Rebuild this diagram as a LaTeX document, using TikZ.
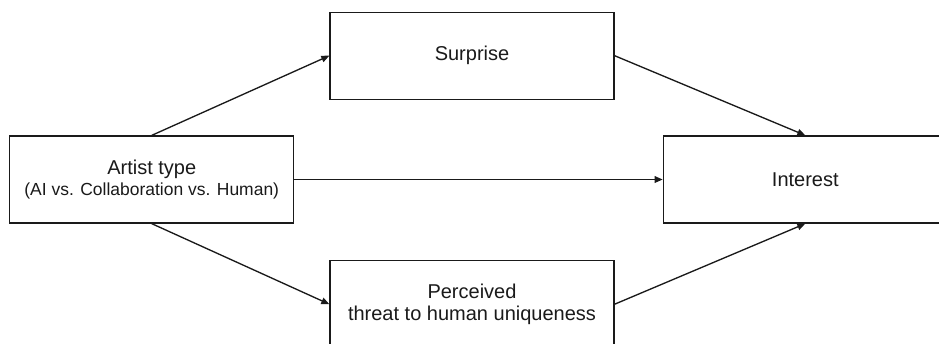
\documentclass[tikz,border=0pt]{standalone}
\usepackage{fontspec}
\setmainfont{Liberation Sans}
\usetikzlibrary{arrows.meta}
\definecolor{ink}{HTML}{1A1A1A}
\tikzset{
  box/.style={draw=ink, line width=1pt, minimum width=213pt, minimum height=65.2pt,
    inner sep=0pt, align=center, text=ink, font=\fontsize{15}{16.5}\selectfont},
  link/.style={draw=ink, line width=1pt, -{Triangle[length=6pt,width=5pt]}}
}
\begin{document}
\begin{tikzpicture}[x=0.75pt,y=-0.75pt]
\clip (0,0) rectangle (939,343);
\fill[white] (0,0) rectangle (939,343);
\node[box] (artist) at (151.75,179.5) {Artist type\\[-1pt]{\fontsize{13.1}{14}\selectfont (AI vs. Collaboration vs. Human)}};
\node[box] (surprise) at (472,55.7) {Surprise};
\node[box] (perceived) at (472,304.2) {Perceived\\[0.5pt]threat to human uniqueness};
\node[box] (interest) at (805.3,179.5) {Interest};
\draw[link] (artist.north) -- (surprise.west);
\draw[link] (artist.east) -- (interest.west);
\draw[link] (artist.south) -- (perceived.west);
\draw[link] (surprise.east) -- (interest.north);
\draw[link] (perceived.east) -- (interest.south);
\end{tikzpicture}
\end{document}
